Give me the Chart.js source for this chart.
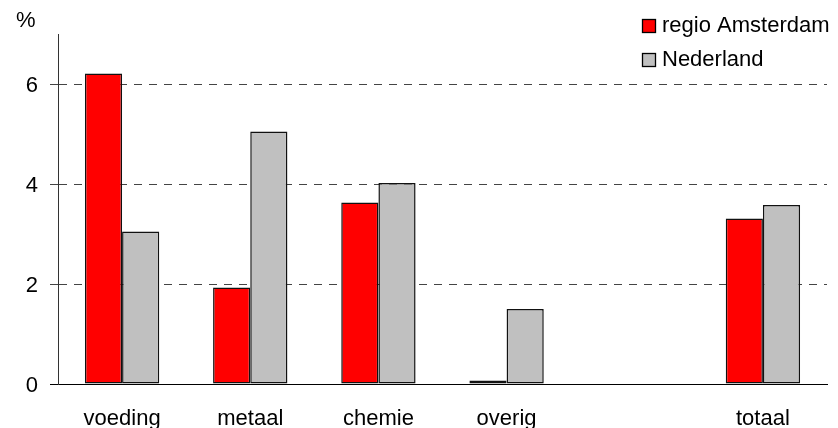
<!DOCTYPE html>
<html>
<head>
<meta charset="utf-8">
<script src="https://cdn.jsdelivr.net/npm/chart.js@4"></script>
<style>
  html, body { margin: 0; padding: 0; background: #fff; }
  #wrap { width: 838px; height: 428px; position: relative; }
</style>
</head>
<body>
<div id="wrap"><canvas id="c" width="838" height="428"></canvas></div>
<script>
const categories = ['voeding', 'metaal', 'chemie', 'overig', '', 'totaal'];
const regioAmsterdam = [6.21, 1.93, 3.63, 0.07, null, 3.31];
const nederland = [3.05, 5.05, 4.02, 1.50, null, 3.58];
const yTicks = [0, 2, 4, 6];
const seriesNames = ['regio Amsterdam', 'Nederland'];
const unitLabel = '%';

const FONT = '"Liberation Sans", Arial, sans-serif';
const FS = 22;

const legendPlugin = {
  id: 'customLegend',
  afterDraw(chart) {
    const ctx = chart.ctx;
    ctx.save();
    ctx.font = FS + 'px ' + FONT;
    ctx.textBaseline = 'middle';
    ctx.textAlign = 'left';
    ctx.fillStyle = '#000';
    ctx.fillText(unitLabel, 16, 21);
    chart.data.datasets.forEach((ds, i) => {
      const y = 26 + i * 34;
      ctx.fillStyle = ds.backgroundColor;
      ctx.fillRect(642.5, y - 6.5, 13, 13);
      ctx.strokeStyle = '#000';
      ctx.lineWidth = 1.3;
      ctx.strokeRect(642.5, y - 6.5, 13, 13);
      ctx.fillStyle = '#000';
      ctx.fillText(ds.label, 662, y);
    });
    ctx.restore();
  }
};

new Chart(document.getElementById('c'), {
  type: 'bar',
  data: {
    labels: categories,
    datasets: [
      { label: seriesNames[0], data: regioAmsterdam, backgroundColor: '#FF0000', borderColor: '#111', borderWidth: 1.5, borderSkipped: false },
      { label: seriesNames[1], data: nederland, backgroundColor: '#C0C0C0', borderColor: '#111', borderWidth: 1.5, borderSkipped: false }
    ]
  },
  options: {
    responsive: false,
    animation: false,
    devicePixelRatio: 1,
    categoryPercentage: 0.58,
    barPercentage: 1,
    layout: { padding: { top: 34, right: 11, left: 0, bottom: 0 } },
    plugins: { legend: { display: false }, tooltip: { enabled: false } },
    scales: {
      x: {
        grid: { display: false },
        border: { display: true, color: '#000', width: 1 },
        ticks: { color: '#000', font: { family: FONT, size: FS }, padding: 14, maxRotation: 0, autoSkip: false },
        afterFit(scale) { scale.height = 44; }
      },
      y: {
        min: 0,
        max: 7,
        afterBuildTicks(scale) { scale.ticks = yTicks.map(v => ({ value: v })); },
        grid: {
          color: ctx => (ctx.tick && ctx.tick.value === 0) ? 'rgba(0,0,0,0)' : '#444',
          lineWidth: 1,
          tickLength: 8,
          tickColor: ctx => (ctx.tick && ctx.tick.value === 0) ? '#000' : '#444',
          tickBorderDash: []
        },
        border: { display: true, color: '#333', width: 1, dash: [8, 7] },
        ticks: { color: '#000', font: { family: FONT, size: FS }, padding: 12, labelOffset: 2 },
        afterFit(scale) { scale.width = 58; }
      }
    }
  },
  plugins: [legendPlugin]
});
</script>
</body>
</html>
